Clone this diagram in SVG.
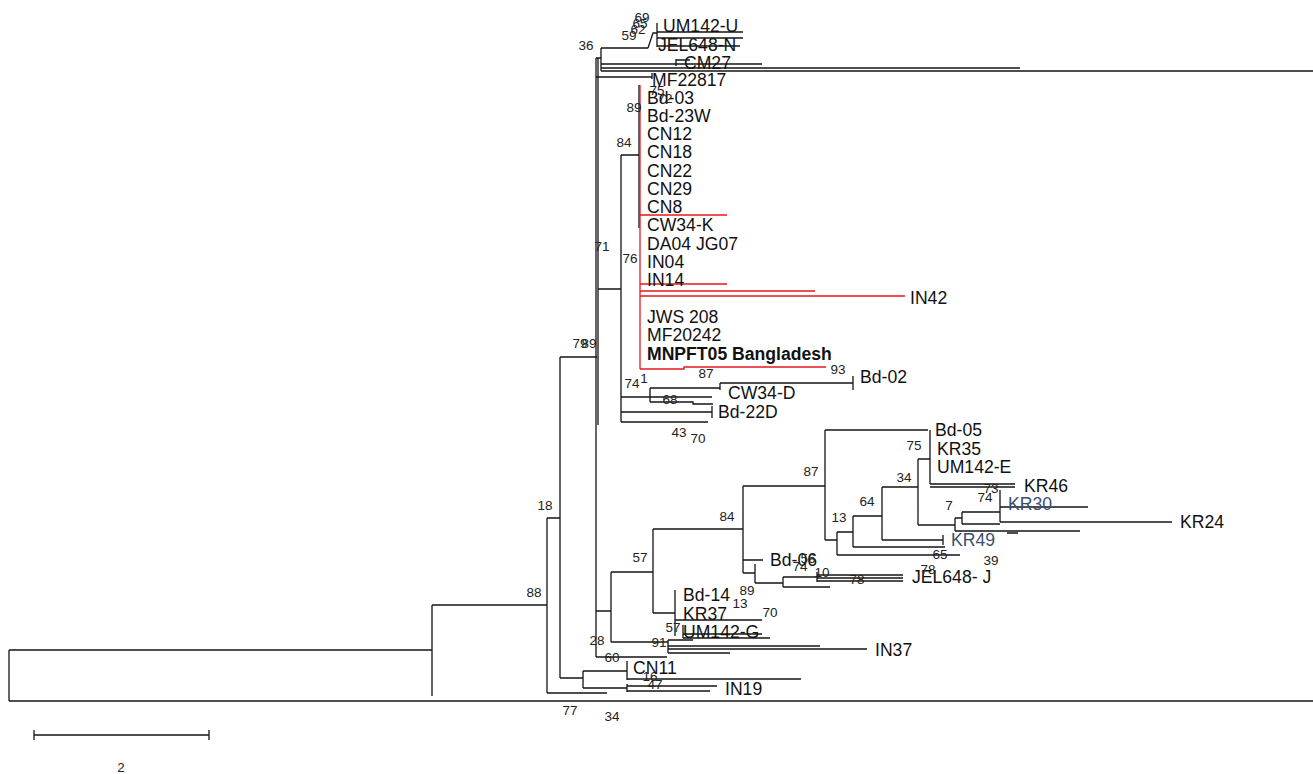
<svg xmlns="http://www.w3.org/2000/svg" width="1313" height="774" viewBox="0 0 1313 774">
<style>
.b{fill:none;stroke:#151515;stroke-width:1.3}
.r{fill:none;stroke:#e3191c;stroke-width:1.3}
.t{font-family:"Liberation Sans",Arial,sans-serif;font-size:17.6px;fill:#111}
.tb{font-weight:bold}
.tc{fill:#3a4f6e}
.n{font-family:"Liberation Sans",Arial,sans-serif;font-size:13.5px;fill:#222;text-anchor:middle}
</style>
<rect width="1313" height="774" fill="#fff"/>
<g id="connectors">
<path class="b" d="M9,650V701M9,650H432M9,701H1313M432,605V696M432,605H547M547,518V693M547,518H560M547,693H607M560,357V678M560,357H597M560,678H583M583,671V688M583,671H627M583,688H627M627,661V680M627,679H801M627,684V692M627,686H717M627,691H710"/>
<path class="b" d="M596,58V657M598,58V425M596,58H601M601,48V71M601,48H648M648,48L653,33H657M657,23V47M657,32H743M657,38H743M657,46H740M601,64H676M676,59V66M676,60H690M676,64H762M601,68H1020M601,71H1313M596,77H652M652,73V79"/>
<path class="b" d="M598,289H621M621,155V422M621,155H639M639,85V228"/>
<path class="r" d="M640,85V369M640,215H727M640,284H727M640,291H815M640,296H905M640,369H684V367H826"/>
<path class="b" d="M621,397H712M650,388V402M650,388H720M720,383V390M720,383H853M853,376V390M650,402H693V404H713M621,412H712M712,406V418M621,422H708"/>
<path class="b" d="M596,611H611M611,572V642M611,572H653M653,529V613M653,529H743M653,613H675M675,590V636M675,620H762M683,625V638M683,634H762M683,638H770M611,642H668M668,640V653M668,640H693M668,646H820M668,649H867M668,653H730M596,657H667"/>
<path class="b" d="M743,486V573M743,486H825M743,560H763M743,573H755M755,564V583M755,583H783M783,577V587M783,577H817M783,587H830M817,572V582M817,575H903M817,578H903M817,581H903"/>
<path class="b" d="M825,430V540M825,430H928M930,430V484M825,540H837M837,532V555M837,532H853M837,555H960M853,516V547M853,516H882M853,547H945M882,487V540M882,540H943M943,535V545M882,487H918M918,459V525M918,459H930M930,484H1015M930,487H1015M918,525H955M955,518V531M955,518H962M962,512V524M962,512H1000M962,524H1000M1000,490V522M1000,507H1088M1000,522H1172M955,531H1080M1007,533H1018"/>
<path class="b" d="M34,735H209M34,730V740M209,730V740"/>
</g>
<g id="taxa">
<g id="UM142-U"><text class="t" x="663" y="32">UM142-U</text></g>
<g id="JEL648-N"><text class="t" x="658" y="51">JEL648-N</text></g>
<g id="CM27"><text class="t" x="684" y="69">CM27</text></g>
<g id="MF22817"><text class="t" x="652" y="86">MF22817</text></g>
<g id="Bd-03"><text class="t" x="647" y="104">Bd-03</text></g>
<g id="Bd-23W"><text class="t" x="647" y="122">Bd-23W</text></g>
<g id="CN12"><text class="t" x="647" y="140">CN12</text></g>
<g id="CN18"><text class="t" x="647" y="158">CN18</text></g>
<g id="CN22"><text class="t" x="647" y="177">CN22</text></g>
<g id="CN29"><text class="t" x="647" y="195">CN29</text></g>
<g id="CN8"><text class="t" x="647" y="213">CN8</text></g>
<g id="CW34-K"><text class="t" x="647" y="231">CW34-K</text></g>
<g id="DA04"><text class="t" x="647" y="250">DA04 JG07</text></g>
<g id="IN04"><text class="t" x="647" y="268">IN04</text></g>
<g id="IN14"><text class="t" x="647" y="286">IN14</text></g>
<g id="IN42"><text class="t" x="910" y="304">IN42</text></g>
<g id="JWS208"><text class="t" x="647" y="323">JWS 208</text></g>
<g id="MF20242"><text class="t" x="647" y="341">MF20242</text></g>
<g id="MNPFT05"><text class="t tb" x="647" y="360">MNPFT05 Bangladesh</text></g>
<g id="Bd-02"><text class="t" x="860" y="383">Bd-02</text></g>
<g id="CW34-D"><text class="t" x="728" y="399">CW34-D</text></g>
<g id="Bd-22D"><text class="t" x="718" y="418">Bd-22D</text></g>
<g id="Bd-05"><text class="t" x="935" y="436">Bd-05</text></g>
<g id="KR35"><text class="t" x="937" y="455">KR35</text></g>
<g id="UM142-E"><text class="t" x="937" y="473">UM142-E</text></g>
<g id="KR46"><text class="t" x="1024" y="492">KR46</text></g>
<g id="KR30"><text class="t tc" x="1008" y="510">KR30</text></g>
<g id="KR24"><text class="t" x="1180" y="528">KR24</text></g>
<g id="KR49"><text class="t tc" x="951" y="546">KR49</text></g>
<g id="Bd-06"><text class="t" x="770" y="566">Bd-06</text></g>
<g id="JEL648-J"><text class="t" x="912" y="583">JEL648- J</text></g>
<g id="Bd-14"><text class="t" x="683" y="601">Bd-14</text></g>
<g id="KR37"><text class="t" x="683" y="620">KR37</text></g>
<g id="UM142-G"><text class="t" x="683" y="638">UM142-G</text></g>
<g id="IN37"><text class="t" x="875" y="656">IN37</text></g>
<g id="CN11"><text class="t" x="633" y="674">CN11</text></g>
<g id="IN19"><text class="t" x="725" y="695">IN19</text></g>
</g>
<g id="support">
<text class="n" x="586" y="50">36</text>
<text class="n" x="642" y="22">69</text>
<text class="n" x="640" y="28">65</text>
<text class="n" x="638" y="34">62</text>
<text class="n" x="629" y="40">59</text>
<text class="n" x="657" y="95">75</text>
<text class="n" x="665" y="103">72</text>
<text class="n" x="634" y="112">89</text>
<text class="n" x="624" y="147">84</text>
<text class="n" x="630" y="263">76</text>
<text class="n" x="602" y="251">71</text>
<text class="n" x="580" y="348">79</text>
<text class="n" x="589" y="348">89</text>
<text class="n" x="545" y="510">18</text>
<text class="n" x="534" y="597">88</text>
<text class="n" x="632" y="388">74</text>
<text class="n" x="644" y="383">1</text>
<text class="n" x="706" y="378">87</text>
<text class="n" x="838" y="374">93</text>
<text class="n" x="670" y="404">68</text>
<text class="n" x="679" y="437">43</text>
<text class="n" x="698" y="443">70</text>
<text class="n" x="811" y="476">87</text>
<text class="n" x="727" y="521">84</text>
<text class="n" x="914" y="450">75</text>
<text class="n" x="904" y="482">34</text>
<text class="n" x="867" y="506">64</text>
<text class="n" x="839" y="522">13</text>
<text class="n" x="949" y="510">7</text>
<text class="n" x="991" y="493">73</text>
<text class="n" x="985" y="502">74</text>
<text class="n" x="940" y="559">65</text>
<text class="n" x="991" y="565">39</text>
<text class="n" x="640" y="562">57</text>
<text class="n" x="800" y="571">74</text>
<text class="n" x="808" y="563">56</text>
<text class="n" x="822" y="577">10</text>
<text class="n" x="857" y="584">78</text>
<text class="n" x="928" y="574">78</text>
<text class="n" x="747" y="595">89</text>
<text class="n" x="740" y="608">13</text>
<text class="n" x="770" y="617">70</text>
<text class="n" x="673" y="632">57</text>
<text class="n" x="659" y="647">91</text>
<text class="n" x="597" y="645">28</text>
<text class="n" x="612" y="662">60</text>
<text class="n" x="650" y="681">16</text>
<text class="n" x="655" y="689">47</text>
<text class="n" x="570" y="715">77</text>
<text class="n" x="612" y="721">34</text>
<text class="n" x="121" y="772">2</text>
</g>
</svg>
